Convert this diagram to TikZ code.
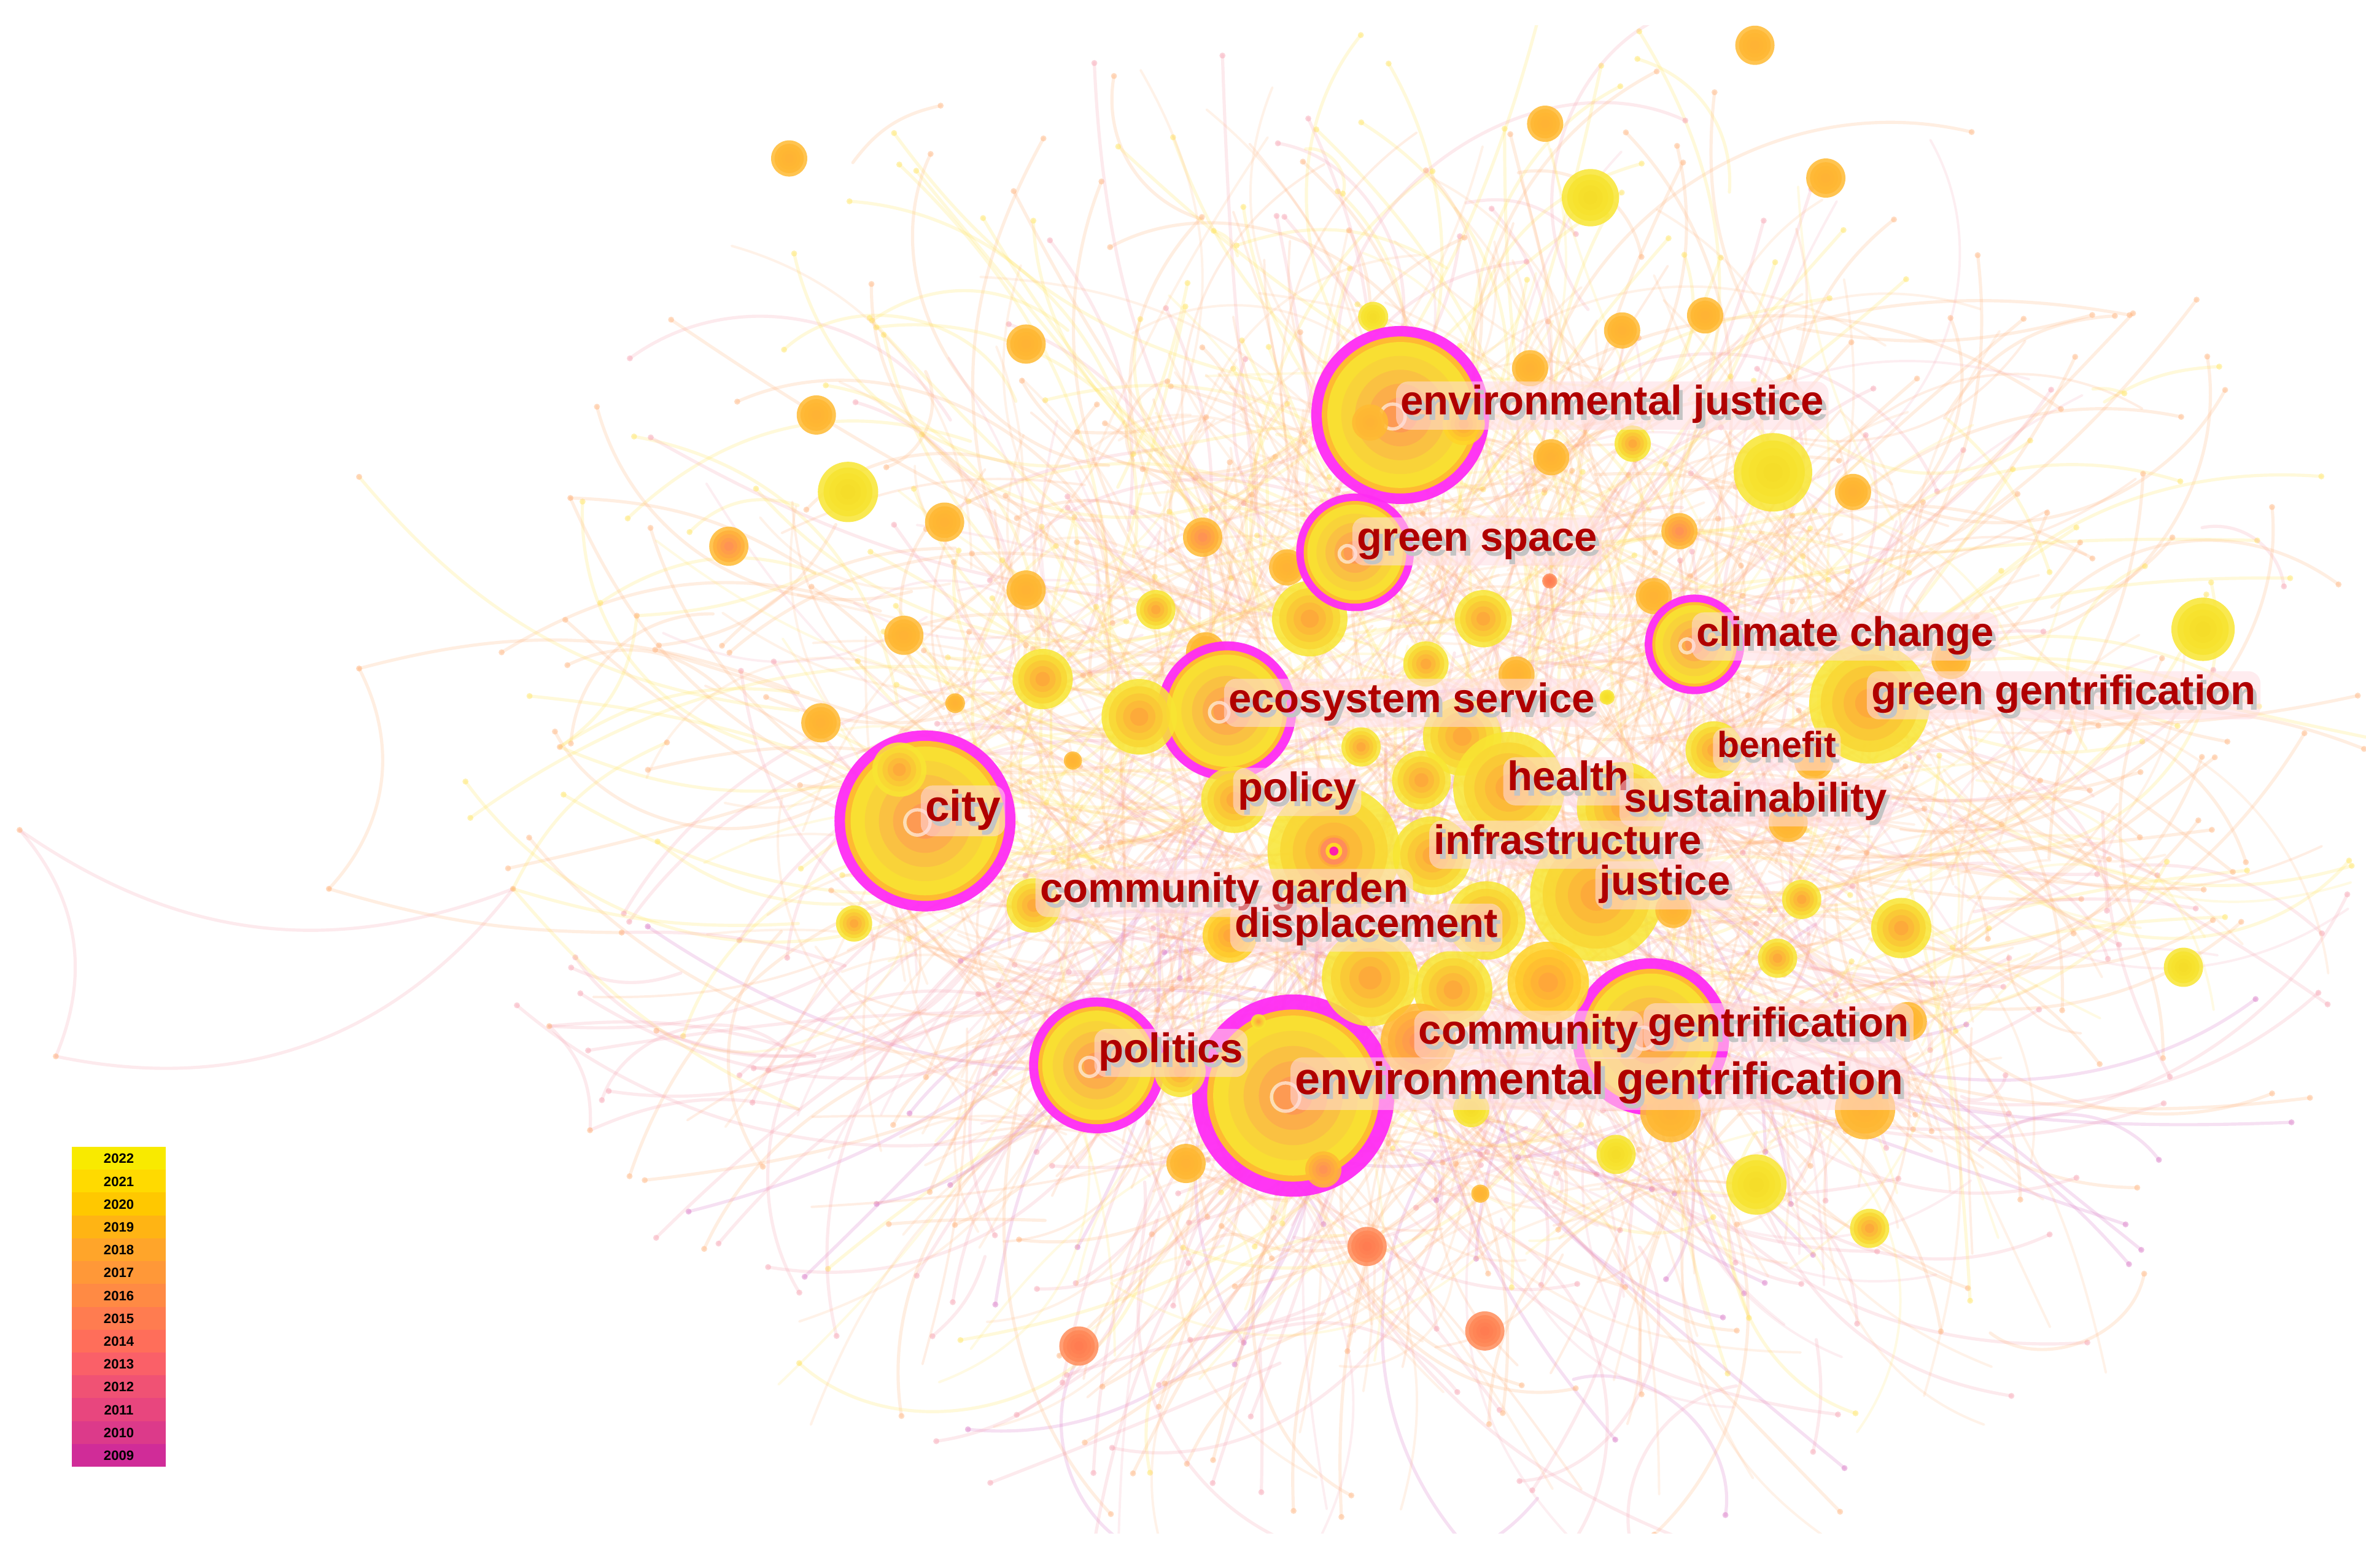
\documentclass[tikz,border=0pt]{standalone}
\usepackage{fontspec}
\setmainfont{Liberation Sans}
\definecolor{ylw}{HTML}{F8E632}
\definecolor{gold}{HTML}{FFD428}
\definecolor{org}{HTML}{FFBA32}
\definecolor{dorg}{HTML}{FFA03C}
\definecolor{coral}{HTML}{FF8C5A}
\definecolor{rd}{HTML}{FF7A50}
\definecolor{syl}{HTML}{F5DC28}
\definecolor{mag}{HTML}{FF2CF4}
\definecolor{labred}{HTML}{B00000}
\definecolor{shad}{HTML}{C4C4C4}
\definecolor{boxpink}{HTML}{FFDDE3}
\definecolor{ey}{HTML}{FFE45A}
\definecolor{eo}{HTML}{FFB27A}
\definecolor{eo2}{HTML}{FFA060}
\definecolor{ep}{HTML}{F7A0B0}
\definecolor{eq}{HTML}{D874C4}
\tikzset{
  kw/.style={circle, inner sep=0pt, outer sep=0pt},
  edge/.style={line width=2.1pt, draw opacity=0.22, line cap=round},
  cedge/.style={line width=1.6pt, draw opacity=0.17, line cap=round},
  lbase/.style={anchor=base west, inner xsep=3pt, inner ysep=1.5pt},
  lbox/.style={lbase, fill=boxpink, fill opacity=0.55, rounded corners=8pt, text opacity=0},
  L/.style={font=\fontsize{27.3}{28}\selectfont\bfseries, text height=20.7pt, text depth=8.2pt},
  Lc/.style={font=\fontsize{29}{30}\selectfont\bfseries, text height=22pt, text depth=8.7pt},
  Lg/.style={font=\fontsize{30}{31}\selectfont\bfseries, text height=22.8pt, text depth=9pt},
  Lb/.style={font=\fontsize{24}{25}\selectfont\bfseries, text height=18.2pt, text depth=7.2pt},
}
\newcommand\rings[5]{%
  \foreach \k in {0,...,4}{%
    \pgfmathtruncatemacro\q{22*\k}%
    \pgfmathsetmacro\rr{#3*(1-0.19*\k)}%
    \fill[#5!\q!#4, fill opacity=0.85] (#1,#2) circle (\rr pt);
  }%
}
\newcommand\bub[6]{%
  \node[kw, minimum size=2*#4pt] (#1) at (#2,#3) {};
  \rings{#2}{#3}{#4}{#5}{#6}%
}
\newcommand\kwY[4]{\bub{#1}{#2}{#3}{#4}{ylw}{dorg}}
\newcommand\kwG[4]{\bub{#1}{#2}{#3}{#4}{gold}{dorg}}
\newcommand\kwO[4]{\bub{#1}{#2}{#3}{#4}{org}{org!70!dorg}}
\newcommand\kwOR[4]{\bub{#1}{#2}{#3}{#4}{org}{coral}}
\newcommand\kwR[4]{\bub{#1}{#2}{#3}{#4}{coral}{rd}}
\newcommand\kwS[4]{\bub{#1}{#2}{#3}{#4}{ylw}{syl}}
\newcommand\mbub[5]{%
  \node[kw, minimum size=2*#4pt, fill=mag, fill opacity=0.95] (#1) at (#2,#3) {};
  \fill[org] (#2,#3) circle (#5pt);
  \rings{#2}{#3}{0.93*#5}{ylw}{coral}%
  \draw[white, opacity=0.6, line width=2.2pt] (#2-5,#3+1) circle (0.14*#4pt);
}
\newcommand\lab[5][L]{%
  \node[lbox, #1] (#2) at (#3,#4) {\phantom{#5}};
  \node[lbase, #1, text=shad] at (#3+2.5,#4+3.5) {#5};
  \node[lbase, #1, text=labred] at (#3,#4) {#5};
}
\pgfmathdeclarerandomlist{ecup}{{ey}{ey}{eo}{eo}{eo}{ep}{ey}}
\pgfmathdeclarerandomlist{eclow}{{ey}{eo}{ep}{ep}{ep}{eq}{eo}}
\pgfmathdeclarerandomlist{ecmid}{{eo}{eo}{eo2}{ey}{ep}{eo}}
\begin{document}
\begin{tikzpicture}[x=1pt,y=-1pt]
\fill[white] (0,0) rectangle (1568,1039);
\useasboundingbox (0,0) rectangle (1568,1039);
% ---------------- connectors (co-citation links) ----------------
\begin{scope}
\clip (0,17) rectangle (1568,1016);
\pgfmathsetseed{2023}
\foreach \i in {1,...,700}{%
  \pgfmathsetmacro\tha{rnd*360}%
  \pgfmathsetmacro\rh{0.35+0.72*rnd}%
  \pgfmathsetmacro\xa{950+600*\rh*cos(\tha)}%
  \pgfmathsetmacro\ya{520+500*\rh*sin(\tha)}%
  \pgfmathsetmacro\ff{0.25+0.6*rnd}%
  \pgfmathsetmacro\xb{\xa+(950-(\xa))*\ff+(rnd-0.5)*300}%
  \pgfmathsetmacro\yb{\ya+(520-(\ya))*\ff+(rnd-0.5)*300}%
  \pgfmathsetmacro\bd{(rnd-0.5)*120}%
  \ifdim\ya pt>580pt \pgfmathrandomitem\ec{eclow}\else\pgfmathrandomitem\ec{ecup}\fi
  \draw[edge, draw=\ec] (\xa,\ya) to[bend left=\bd] (\xb,\yb);
  \fill[\ec, opacity=0.45] (\xa,\ya) circle (2pt);
}
\foreach \i in {1,...,900}{%
  \pgfmathsetmacro\tha{rnd*360}%
  \pgfmathsetmacro\rh{sqrt(rnd)}%
  \pgfmathsetmacro\xa{960+390*\rh*cos(\tha)}%
  \pgfmathsetmacro\ya{540+310*\rh*sin(\tha)}%
  \pgfmathsetmacro\thb{rnd*360}%
  \pgfmathsetmacro\lnn{60+220*rnd}%
  \pgfmathsetmacro\xb{\xa+\lnn*cos(\thb)}%
  \pgfmathsetmacro\yb{\ya+\lnn*sin(\thb)}%
  \pgfmathsetmacro\bd{(rnd-0.5)*100}%
  \pgfmathrandomitem\ec{ecmid}%
  \draw[cedge, draw=\ec] (\xa,\ya) to[bend left=\bd] (\xb,\yb);
}
% outlying links on the far left
\coordinate (p1) at (238,316);  \coordinate (p2) at (378,330);
\coordinate (p3) at (238,443);  \coordinate (p4) at (422,408);
\coordinate (p5) at (371,495);  \coordinate (p6) at (442,492);
\coordinate (p7) at (218,589);  \coordinate (p8) at (340,589);
\coordinate (p9) at (13,550);   \coordinate (p10) at (37,700);
\coordinate (p11) at (412,618); \coordinate (p12) at (364,680);
\coordinate (p13) at (435,683); \coordinate (p14) at (391,749);
\coordinate (q1) at (529,471);  \coordinate (q2) at (529,459);
\coordinate (q3) at (529,612);  \coordinate (q4) at (529,735);
\coordinate (q5) at (540,380);  \coordinate (q6) at (560,520);
\coordinate (q7) at (560,640);  \coordinate (q8) at (540,700);
\draw[edge, draw=ey] (p1) to[bend right=22] (q1);
\draw[edge, draw=eo] (p3) to[bend left=35] (p7);
\draw[edge, draw=eo] (p3) to[bend left=18] (q2);
\draw[edge, draw=ep] (p9) to[bend right=28] (p8);
\draw[edge, draw=ep] (p9) to[bend left=32] (p10);
\draw[edge, draw=ep] (p10) to[bend right=32] (p8);
\draw[edge, draw=eo] (p7) to[bend right=8] (p11);
\draw[edge, draw=ey] (p8) to[bend right=10] (q3);
\draw[edge, draw=ey] (p8) to[bend left=20] (p6);
\draw[edge, draw=ey] (p8) to[bend right=12] (q4);
\draw[edge, draw=ey] (p5) to[bend left=20] (q2);
\draw[edge, draw=ey] (p5) to[bend right=15] (q6);
\draw[edge, draw=eo] (p2) to[bend left=15] (q5);
\draw[edge, draw=eo] (p2) to[bend right=20] (q6);
\draw[edge, draw=ey] (p4) to[bend left=25] (p5);
\draw[edge, draw=ey] (p4) to[bend right=10] (q5);
\draw[edge, draw=ep] (p11) to[bend left=10] (q7);
\draw[edge, draw=ep] (p12) to[bend right=15] (q7);
\draw[edge, draw=ep] (p12) to[bend left=12] (q8);
\draw[edge, draw=ep] (p13) to[bend right=10] (q8);
\draw[edge, draw=ep] (p14) to[bend left=18] (q4);
\draw[edge, draw=ep] (p14) to[bend right=25] (p12);
\foreach \p in {p1,p2,p3,p4,p5,p6,p7,p8,p9,p10,p11,p12,p13,p14}
  \fill[eo, opacity=0.5] (\p) circle (2pt);
\end{scope}
% ---------------- keyword nodes ----------------
\kwO{n1}{1163}{30}{13}
\kwO{n2}{1024}{82}{12}
\kwO{n3}{523}{105}{12}
\kwS{n4}{1054}{131}{19}
\kwO{n5}{1210}{118}{13}
\kwO{n6}{1130}{209}{12}
\kwO{n7}{1075}{219}{12}
\kwO{n8}{680}{228}{13}
\kwS{n9}{910}{210}{10}
\kwO{n10}{1014}{244}{12}
\kwO{n11}{541}{275}{13}
\kwY{n12}{1082}{294}{12}
\kwO{n13}{1028}{303}{12}
\kwS{n14}{1175}{313}{26}
\kwS{n15}{562}{326}{20}
\kwO{n16}{1228}{326}{12}
\kwO{n17}{626}{346}{13}
\kwOR{n18}{483}{362}{13}
\kwOR{n19}{797}{356}{13}
\kwOR{n20}{1113}{352}{12}
\kwR{n21}{1027}{385}{5}
\kwO{n22}{853}{376}{12}
\kwO{n23}{680}{391}{13}
\kwO{n24}{1096}{395}{12}
\kwY{n25}{766}{404}{13}
\kwY{n26}{868}{410}{25}
\kwY{n27}{983}{410}{19}
\kwO{n28}{599}{421}{13}
\kwY{n29}{691}{450}{20}
\kwY{n30}{945}{440}{15}
\kwO{n31}{1005}{447}{12}
\kwS{n32}{1460}{417}{21}
\kwO{n33}{1293}{437}{13}
\kwO{n84}{799}{432}{13}
% magenta-ringed (high centrality) nodes
\mbub{envjustice}{928}{275}{59}{52}
\mbub{greenspace}{898}{366}{39}{34}
\mbub{climate}{1123}{427}{33}{28}
\mbub{ecosystem}{813}{471}{46}{40}
\mbub{city}{613}{544}{60}{53}
\mbub{politics}{727}{706}{45}{39}
\mbub{envgent}{857}{726}{67}{57}
\mbub{gentrif}{1094}{687}{52}{45}
\kwO{n81}{908}{280}{12}
\kwG{n82}{970}{281}{14}
\kwY{n80}{596}{510}{18}
\kwY{n34}{1239}{466}{40}
\kwS{n35}{1065}{462}{5}
\kwO{n36}{633}{466}{6.5}
\kwY{n37}{755}{475}{25}
\kwO{n38}{544}{479}{13}
\kwY{n39}{969}{488}{26}
\kwY{n40}{902}{495}{13}
\kwO{n41}{711}{504}{6}
\kwY{n42}{1136}{497}{19}
\kwO{n43}{1202}{504}{13}
\kwY{n44}{942}{517}{19.5}
\kwY{n45}{1000}{522}{37}
\kwY{n46}{1075}{535}{30}
\kwY{n47}{818}{530}{22}
\kwO{n48}{1185}{545}{13}
\kwY{n49}{884}{564}{44}
\fill[coral] (n49.center) circle (9pt);
\fill[gold] (n49.center) circle (5.5pt);
\fill[mag!70!red] (n49.center) circle (3pt);
\kwY{n50}{949}{567}{26}
\kwY{n51}{1058}{593}{44}
\kwY{n52}{1194}{596}{13}
\kwY{n53}{566}{612}{12}
\kwY{n54}{685}{600}{18}
\kwG{n55}{815}{620}{18}
\kwY{n56}{985}{610}{26}
\kwO{n57}{1109}{603}{12}
\kwY{n58}{1260}{615}{20}
\kwY{n59}{1178}{635}{13}
\kwY{n60}{908}{648}{32}
\kwY{n61}{963}{656}{26}
\kwG{n62}{1026}{651}{27}
\kwS{n63}{1447}{641}{13}
\kwO{n64}{1264}{677}{13}
\kwOR{n65}{940}{690}{25}
\kwY{n66}{782}{710}{17}
\kwY{n67}{834}{677}{5}
\kwO{n68}{1107}{737}{20}
\kwO{n69}{1236}{735}{20}
\kwS{n70}{975}{735}{12}
\kwO{n71}{786}{771}{13}
\kwOR{n72}{877}{775}{12}
\kwS{n73}{1071}{765}{13}
\kwS{n74}{1164}{785}{20}
\kwO{n75}{981}{791}{6}
\kwY{n76}{1239}{814}{13}
\kwR{n77}{906}{826}{13}
\kwR{n78}{984}{882}{13}
\kwR{n79}{715}{892}{13}
% ---------------- labels ----------------
\lab{envjusticeL}{925}{275}{environmental justice}
\lab{greenspaceL}{896}{365}{green space}
\lab{climateL}{1121}{428}{climate change}
\lab{greengentL}{1237}{467}{green gentrification}
\lab{ecosystemL}{811}{472}{ecosystem service}
\lab[Lb]{benefitL}{1135}{502}{benefit}
\lab{healthL}{996}{524}{health}
\lab{policyL}{817}{531}{policy}
\lab{sustainL}{1073}{538}{sustainability}
\lab[Lc]{cityL}{610}{544}{city}
\lab{infraL}{947}{566}{infrastructure}
\lab{justiceL}{1057}{593}{justice}
\lab{cgardenL}{686}{598}{community garden}
\lab{displaceL}{815}{621}{displacement}
\lab{gentrifL}{1089}{687}{gentrification}
\lab{communityL}{937}{692}{community}
\lab{politicsL}{725}{704}{politics}
\lab[Lg]{envgentL}{855}{725}{environmental gentrification}
% ---------------- year legend ----------------
\foreach \lc/\yr [count=\i from 0] in {F8EA00/2022,FFDA00/2021,FFC800/2020,FFB414/2019,FFA52A/2018,FF9838/2017,FF8A44/2016,FF7C50/2015,FF6E5A/2014,FA6068/2013,F05274/2012,E8467E/2011,DC3A8A/2010,D02C98/2009}{
  \definecolor{lgc}{HTML}{\lc}
  \fill[lgc] (47.5,760+15.14*\i) rectangle (110,760+15.14*\i+15.2);
  \node[font=\fontsize{9}{9}\selectfont\bfseries, text=black, inner sep=0pt] (yr\yr) at (78.75,760+15.14*\i+7.8) {\yr};
}
\end{tikzpicture}
\end{document}
